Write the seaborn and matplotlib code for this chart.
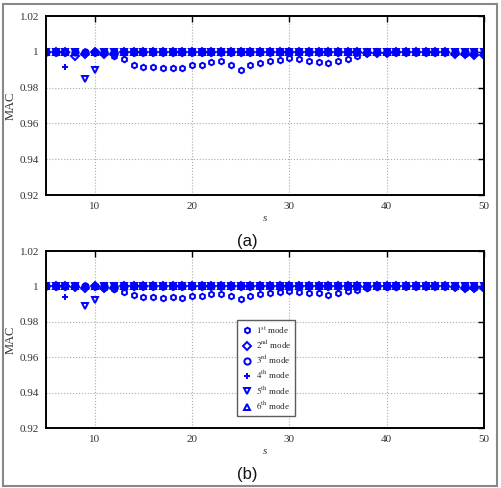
import matplotlib
matplotlib.use("Agg")
import matplotlib.pyplot as plt
import seaborn as sns
import numpy as np
from matplotlib.patches import Rectangle

sns.set_style("white")
plt.rcParams['font.family'] = ['Liberation Serif', 'DejaVu Serif']
plt.rcParams['mathtext.fontset'] = 'stix'

s = list(range(5, 51))

mode_labels = ["$1^{\\mathrm{st}}$ mode", "$2^{\\mathrm{nd}}$ mode", "$3^{\\mathrm{rd}}$ mode",
               "$4^{\\mathrm{th}}$ mode", "$5^{\\mathrm{th}}$ mode", "$6^{\\mathrm{th}}$ mode"]
mode_markers = ["h", "D", "o", "+", "v", "^"]

# ---- panel (a) ----
a_mode1 = [1.0, 1.0, 1.0, 1.0, 1.0, 1.0, 0.9993, 0.9978,
           0.9959, 0.9929, 0.9914, 0.9916, 0.9908, 0.9912, 0.9907, 0.9929,
           0.9925, 0.9942, 0.9946, 0.9925, 0.9901, 0.9929, 0.9938, 0.9948,
           0.9955, 0.9966, 0.9957, 0.9948, 0.9944, 0.9938, 0.9950, 0.9961,
           0.9976, 0.9993,
           0.9997, 0.9998, 0.9999, 1.0, 1.0, 1.0, 1.0, 1.0, 0.9995, 0.9990, 0.9985, 0.9982]
a_mode2 = [1.0, 1.0, 1.0, 0.9978, 0.9987, 1.0, 0.9987, 0.9990,
           1.0, 1.0, 1.0, 1.0, 1.0, 1.0, 1.0, 1.0,
           1.0, 1.0, 1.0, 1.0, 1.0, 1.0, 1.0, 1.0,
           1.0, 1.0, 1.0, 1.0, 1.0, 1.0, 1.0, 1.0,
           1.0, 0.9996, 0.9994, 0.9995, 1.0, 1.0, 1.0, 1.0, 1.0, 1.0, 0.9990, 0.9985, 0.9980, 0.9980]
a_mode3 = [1.0] * 46
a_mode4 = [1.0, 1.0, 0.9916] + [1.0] * 43
a_mode5 = [1.0, 1.0, 1.0, 1.0, 0.9850, 0.9900] + [1.0] * 40
a_mode6 = [1.0] * 46

# ---- panel (b) ----
b_mode1 = [1.0, 1.0, 1.0, 1.0, 1.0, 1.0, 0.9989, 0.9985,
           0.9970, 0.9949, 0.9940, 0.9940, 0.9936, 0.9938, 0.9932, 0.9947,
           0.9947, 0.9957, 0.9959, 0.9947, 0.9928, 0.9947, 0.9955, 0.9960,
           0.9966, 0.9974, 0.9966, 0.9960, 0.9960, 0.9951, 0.9964, 0.9972,
           0.9979, 0.9990,
           0.9995, 0.9997, 0.9998, 1.0, 1.0, 1.0, 1.0, 1.0, 0.9995, 0.9992, 0.9989, 0.9989]
b_mode2 = [1.0, 1.0, 1.0, 0.9994, 0.9992, 1.0, 0.9990, 0.9992,
           1.0, 1.0, 1.0, 1.0, 1.0, 1.0, 1.0, 1.0,
           1.0, 1.0, 1.0, 1.0, 1.0, 1.0, 1.0, 1.0,
           1.0, 1.0, 1.0, 1.0, 1.0, 1.0, 1.0, 1.0,
           1.0, 0.9997, 1.0, 1.0, 1.0, 1.0, 1.0, 1.0, 1.0, 1.0, 0.9995, 0.9992, 0.9990, 0.9990]
b_mode3 = [1.0] * 46
b_mode4 = [1.0, 1.0, 0.9940] + [1.0] * 43
b_mode5 = [1.0, 1.0, 1.0, 1.0, 0.9890, 0.9923] + [1.0] * 40
b_mode6 = [1.0] * 46

x_ticks = [10, 20, 30, 40, 50]
y_ticks = [0.92, 0.94, 0.96, 0.98, 1.0, 1.02]
y_tick_labels = ["0.92", "0.94", "0.96", "0.98", "1", "1.02"]

fig = plt.figure(figsize=(5.01, 4.88), dpi=100)
ax_a = fig.add_axes([46/501, (488-195)/488, 438/501, 179/488])
ax_b = fig.add_axes([46/501, (488-428)/488, 438/501, 177/488])

panels = [(ax_a, [a_mode1, a_mode2, a_mode3, a_mode4, a_mode5, a_mode6], "(a)"),
          (ax_b, [b_mode1, b_mode2, b_mode3, b_mode4, b_mode5, b_mode6], "(b)")]

for ax, series, tag in panels:
    for vals, lab, mk in zip(series, mode_labels, mode_markers):
        ms = 4.0 if mk in ("h", "D") else 4.5
        sns.lineplot(x=s, y=vals, ax=ax, marker=mk, linestyle="", color="#0000ff",
                     markerfacecolor="none", markeredgecolor="#0000ff",
                     markeredgewidth=1.4, markersize=ms, label=lab, legend=False)
    ax.set_xlim(5, 50)
    ax.set_ylim(0.92, 1.02)
    ax.set_xticks(x_ticks)
    ax.set_xticklabels([str(t) for t in x_ticks])
    ax.set_yticks(y_ticks)
    ax.set_yticklabels(y_tick_labels)
    ax.tick_params(direction="in", top=True, right=True, length=4, width=1,
                   labelsize=8, colors="black", labelcolor="#333333", pad=5)
    ax.grid(True, linestyle=":", color="#aaaaaa", linewidth=0.8)
    for sp in ax.spines.values():
        sp.set_color("black")
        sp.set_linewidth(1.4)
    ax.set_xlabel("s", fontstyle="italic", fontsize=8, labelpad=2, color="#333333")
    ax.set_ylabel("MAC", fontsize=9, labelpad=2, color="#333333")
    ax.text(0.46, -0.26, tag, transform=ax.transAxes, ha="center", va="center",
            fontsize=12, family=["Liberation Sans", "DejaVu Sans"], color="#111111")

leg = ax_b.legend(loc="lower left", bbox_to_anchor=(0.425, 0.04), fontsize=6.5,
                  frameon=True, fancybox=False, edgecolor="#333333",
                  handletextpad=0.4, borderpad=0.5, labelspacing=0.35,
                  handlelength=1.2)
leg.get_frame().set_linewidth(1.0)

fig.patches.append(Rectangle((3/501, 2/488), 494/501, 482/488, transform=fig.transFigure,
                             fill=False, edgecolor="#888888", linewidth=1.5))

fig.savefig("out.png", dpi=100)
